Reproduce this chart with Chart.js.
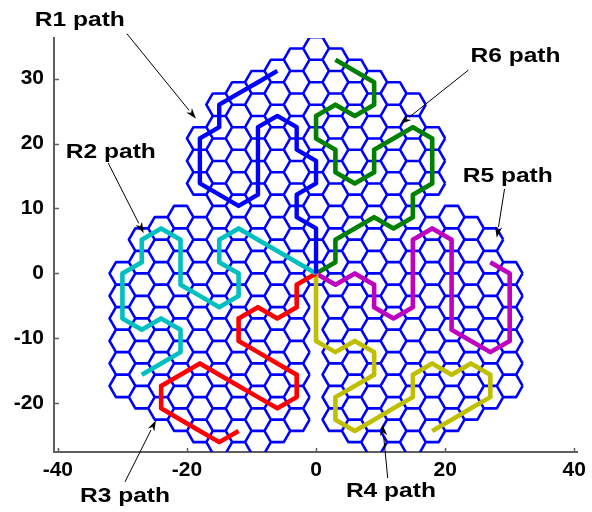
<!DOCTYPE html>
<html>
<head>
<meta charset="utf-8">
<script src="https://cdn.jsdelivr.net/npm/chart.js@4.4.1/dist/chart.umd.min.js"></script>
<style>
  html, body { margin: 0; padding: 0; background: #ffffff; }
  #wrap { width: 592px; height: 512px; }
</style>
</head>
<body>
<div id="wrap"><canvas id="c" width="592" height="512"></canvas></div>
<script>
// Axis ranges and tick values
const xRange = [-40.6, 40.5];
const yRange = [-27.5, 36.25];
const xTicks = [-40, -20, 0, 20, 40];
const yTicks = [-20, -10, 0, 10, 20, 30];

// Flat-topped hexagonal cells (side length), lattice centred on the origin
const hexSide = 2;
// The field is the union of three lobes of cells: centre x, centre y, radius
const lobeX = [0, -13.86, 13.86];
const lobeY = [16, -8, -8];
const lobeR = [18.7, 18.7, 18.7];
// Side of x = 0 each lobe keeps (0 = both, -1 = left only, 1 = right only)
const lobeSide = [0, -1, 1];

// Robot paths through cell centres, starting at the shared origin cell
const r1X = [0, 0, 0, -3, -3, 0, 0, -3, -3, -6, -9, -9, -9, -9, -12, -15, -18, -18, -18, -15, -15, -12, -9, -6];
const r1Y = [0, 3.46, 6.93, 8.66, 12.12, 13.86, 17.32, 19.05, 22.52, 24.25, 22.52, 19.05, 15.59, 12.12, 10.39, 12.12, 13.86, 17.32, 20.78, 22.52, 25.98, 27.71, 29.44, 31.18];

const r2X = [0, -3, -6, -9, -12, -15, -15, -12, -12, -15, -18, -21, -21, -21, -24, -27, -27, -30, -30, -30, -27, -24, -21, -21, -24, -27];
const r2Y = [0, 1.73, 3.46, 5.2, 6.93, 5.2, 1.73, 0, -3.46, -5.2, -3.46, -1.73, 1.73, 5.2, 6.93, 5.2, 1.73, 0, -3.46, -6.93, -8.66, -6.93, -8.66, -12.12, -13.86, -15.59];

const r3X = [0, -3, -3, -6, -9, -12, -12, -9, -6, -3, -3, -6, -9, -12, -15, -18, -21, -24, -24, -21, -18, -15, -12];
const r3Y = [0, -1.73, -5.2, -6.93, -5.2, -6.93, -10.39, -12.12, -13.86, -15.59, -19.05, -20.78, -19.05, -17.32, -15.59, -13.86, -15.59, -17.32, -20.78, -22.52, -24.25, -25.98, -24.25];

const r4X = [0, 0, 0, 0, 3, 6, 9, 9, 6, 3, 3, 6, 9, 12, 15, 15, 18, 21, 24, 27, 27, 24, 21, 18];
const r4Y = [0, -3.46, -6.93, -10.39, -12.12, -10.39, -12.12, -15.59, -17.32, -19.05, -22.52, -24.25, -22.52, -20.78, -19.05, -15.59, -13.86, -15.59, -13.86, -15.59, -19.05, -20.78, -22.52, -24.25];

const r5X = [0, 3, 6, 9, 9, 12, 15, 15, 15, 15, 18, 21, 21, 21, 21, 21, 24, 27, 30, 30, 30, 30, 27];
const r5Y = [0, -1.73, 0, -1.73, -5.2, -6.93, -5.2, -1.73, 1.73, 5.2, 6.93, 5.2, 1.73, -1.73, -5.2, -8.66, -10.39, -12.12, -10.39, -6.93, -3.46, 0, 1.73];

const r6X = [0, 3, 3, 6, 9, 12, 15, 15, 18, 18, 18, 15, 12, 9, 9, 6, 3, 3, 0, 0, 3, 6, 9, 9, 6, 3];
const r6Y = [0, 1.73, 5.2, 6.93, 8.66, 6.93, 8.66, 12.12, 13.86, 17.32, 20.78, 22.52, 20.78, 19.05, 15.59, 13.86, 15.59, 19.05, 20.78, 24.25, 25.98, 24.25, 25.98, 29.44, 31.18, 32.91];

// Callout labels: text, label centre, arrow tail and arrow tip (data units)
const noteText  = ['R1 path', 'R2 path', 'R3 path', 'R4 path', 'R5 path', 'R6 path'];
const noteX     = [-36.6, -31.8, -29.6, 11.6, 29.7, 30.9];
const noteY     = [39.0, 18.7, -34.3, -33.6, 15.0, 33.5];
const tailX     = [-29.3, -32.2, -29.6, 11.1, 29.2, 23.6];
const tailY     = [36.9, 17.0, -32.1, -31.5, 13.0, 31.3];
const tipX      = [-18.6, -26.7, -24.8, 10.3, 28.0, 13.1];
const tipY      = [23.8, 6.2, -22.6, -23.3, 5.5, 23.0];

function toPoints(xs, ys) {
  return xs.map((v, i) => ({ x: v, y: ys[i] }));
}

// Outline of every cell of the field, one closed hexagon per cell
function cellOutlines() {
  const pts = [];
  const colStep = 1.5 * hexSide;
  const halfRow = Math.sqrt(3) * hexSide / 2;
  for (let i = -14; i <= 14; i++) {
    for (let m = -24; m <= 24; m++) {
      if ((m - i) % 2 !== 0) continue;
      const cx = i * colStep, cy = m * halfRow;
      let inside = false;
      for (let k = 0; k < lobeX.length; k++) {
        if (lobeSide[k] < 0 && cx >= 0) continue;
        if (lobeSide[k] > 0 && cx <= 0) continue;
        if (Math.hypot(cx - lobeX[k], cy - lobeY[k]) <= lobeR[k]) inside = true;
      }
      if (!inside) continue;
      for (let v = 0; v <= 6; v++) {
        const a = v * Math.PI / 3;
        pts.push({ x: cx + hexSide * Math.cos(a), y: cy + hexSide * Math.sin(a) });
      }
      pts.push({ x: NaN, y: NaN });
    }
  }
  return pts;
}

const pathStyle = (label, xs, ys, color, width) => ({
  label,
  data: toPoints(xs, ys),
  showLine: true,
  borderColor: color,
  backgroundColor: color,
  borderWidth: width,
  pointRadius: 0,
  borderJoinStyle: 'round',
  borderCapStyle: 'butt',
  order: 1
});

// Inward tick marks on the left and bottom axes
const tickMarks = {
  id: 'tickMarks',
  afterDraw(chart) {
    const { ctx, chartArea, scales } = chart;
    ctx.save();
    ctx.strokeStyle = '#5f5f5f';
    ctx.lineWidth = 1.5;
    ctx.beginPath();
    xTicks.forEach(v => {
      const px = Math.round(scales.x.getPixelForValue(v)) + 0.5;
      ctx.moveTo(px, chartArea.bottom);
      ctx.lineTo(px, chartArea.bottom - 4);
    });
    yTicks.forEach(v => {
      const py = Math.round(scales.y.getPixelForValue(v)) + 0.5;
      ctx.moveTo(chartArea.left, py);
      ctx.lineTo(chartArea.left + 5, py);
    });
    ctx.stroke();
    ctx.restore();
  }
};

// Callout labels with thin arrows
const callouts = {
  id: 'callouts',
  afterDraw(chart) {
    const { ctx, scales } = chart;
    const sx = scales.x, sy = scales.y;
    ctx.save();
    ctx.strokeStyle = '#000';
    ctx.fillStyle = '#000';
    ctx.lineWidth = 1;
    for (let k = 0; k < noteText.length; k++) {
      const x0 = sx.getPixelForValue(tailX[k]), y0 = sy.getPixelForValue(tailY[k]);
      const x1 = sx.getPixelForValue(tipX[k]), y1 = sy.getPixelForValue(tipY[k]);
      const ang = Math.atan2(y1 - y0, x1 - x0);
      const len = 11, half = 3.6;
      const bx = x1 - len * Math.cos(ang), by = y1 - len * Math.sin(ang);
      ctx.beginPath();
      ctx.moveTo(x0, y0);
      ctx.lineTo(bx, by);
      ctx.stroke();
      ctx.beginPath();
      ctx.moveTo(x1, y1);
      ctx.lineTo(bx + half * Math.sin(ang), by - half * Math.cos(ang));
      ctx.lineTo(x1 - 0.7 * len * Math.cos(ang), y1 - 0.7 * len * Math.sin(ang));
      ctx.lineTo(bx - half * Math.sin(ang), by + half * Math.cos(ang));
      ctx.closePath();
      ctx.fill();
    }
    ctx.font = 'bold 21px "Liberation Sans", Arial, sans-serif';
    ctx.textAlign = 'center';
    ctx.textBaseline = 'middle';
    for (let k = 0; k < noteText.length; k++) {
      ctx.save();
      ctx.translate(sx.getPixelForValue(noteX[k]), sy.getPixelForValue(noteY[k]));
      ctx.scale(1.17, 1);
      ctx.fillText(noteText[k], 0, 0);
      ctx.restore();
    }
    ctx.restore();
  }
};

const tickFont = { family: '"Liberation Sans", Arial, sans-serif', size: 21, weight: 'bold' };

new Chart(document.getElementById('c'), {
  type: 'scatter',
  data: {
    datasets: [
      pathStyle('R1 path', r1X, r1Y, '#0000FF', 4.4),
      pathStyle('R2 path', r2X, r2Y, '#00BFBF', 4.6),
      pathStyle('R3 path', r3X, r3Y, '#FF0000', 4.6),
      pathStyle('R4 path', r4X, r4Y, '#BFBF00', 4.6),
      pathStyle('R5 path', r5X, r5Y, '#BF00BF', 4.6),
      pathStyle('R6 path', r6X, r6Y, '#008000', 4.6),
      {
        label: 'cells',
        data: cellOutlines(),
        showLine: true,
        spanGaps: false,
        borderColor: '#0000FF',
        borderWidth: 2.6,
        pointRadius: 0,
        borderJoinStyle: 'round',
        order: 5
      }
    ]
  },
  options: {
    responsive: false,
    animation: false,
    layout: { padding: { top: 38, right: 14, left: 0, bottom: 0 } },
    plugins: { legend: { display: false }, tooltip: { enabled: false } },
    scales: {
      x: {
        type: 'linear',
        min: xRange[0],
        max: xRange[1],
        afterBuildTicks: s => { s.ticks = xTicks.map(v => ({ value: v })); },
        afterFit: s => { s.height = 60; },
        grid: { display: false, drawTicks: false },
        border: { display: true, color: '#5f5f5f', width: 2 },
        ticks: { color: '#000', font: tickFont, padding: 6, maxRotation: 0, autoSkip: false }
      },
      y: {
        type: 'linear',
        min: yRange[0],
        max: yRange[1],
        afterBuildTicks: s => { s.ticks = yTicks.map(v => ({ value: v })); },
        afterFit: s => { s.width = 54; },
        grid: { display: false, drawTicks: false },
        border: { display: true, color: '#5f5f5f', width: 2 },
        ticks: { color: '#000', font: tickFont, padding: 10, autoSkip: false }
      }
    }
  },
  plugins: [tickMarks, callouts]
});
</script>
</body>
</html>
